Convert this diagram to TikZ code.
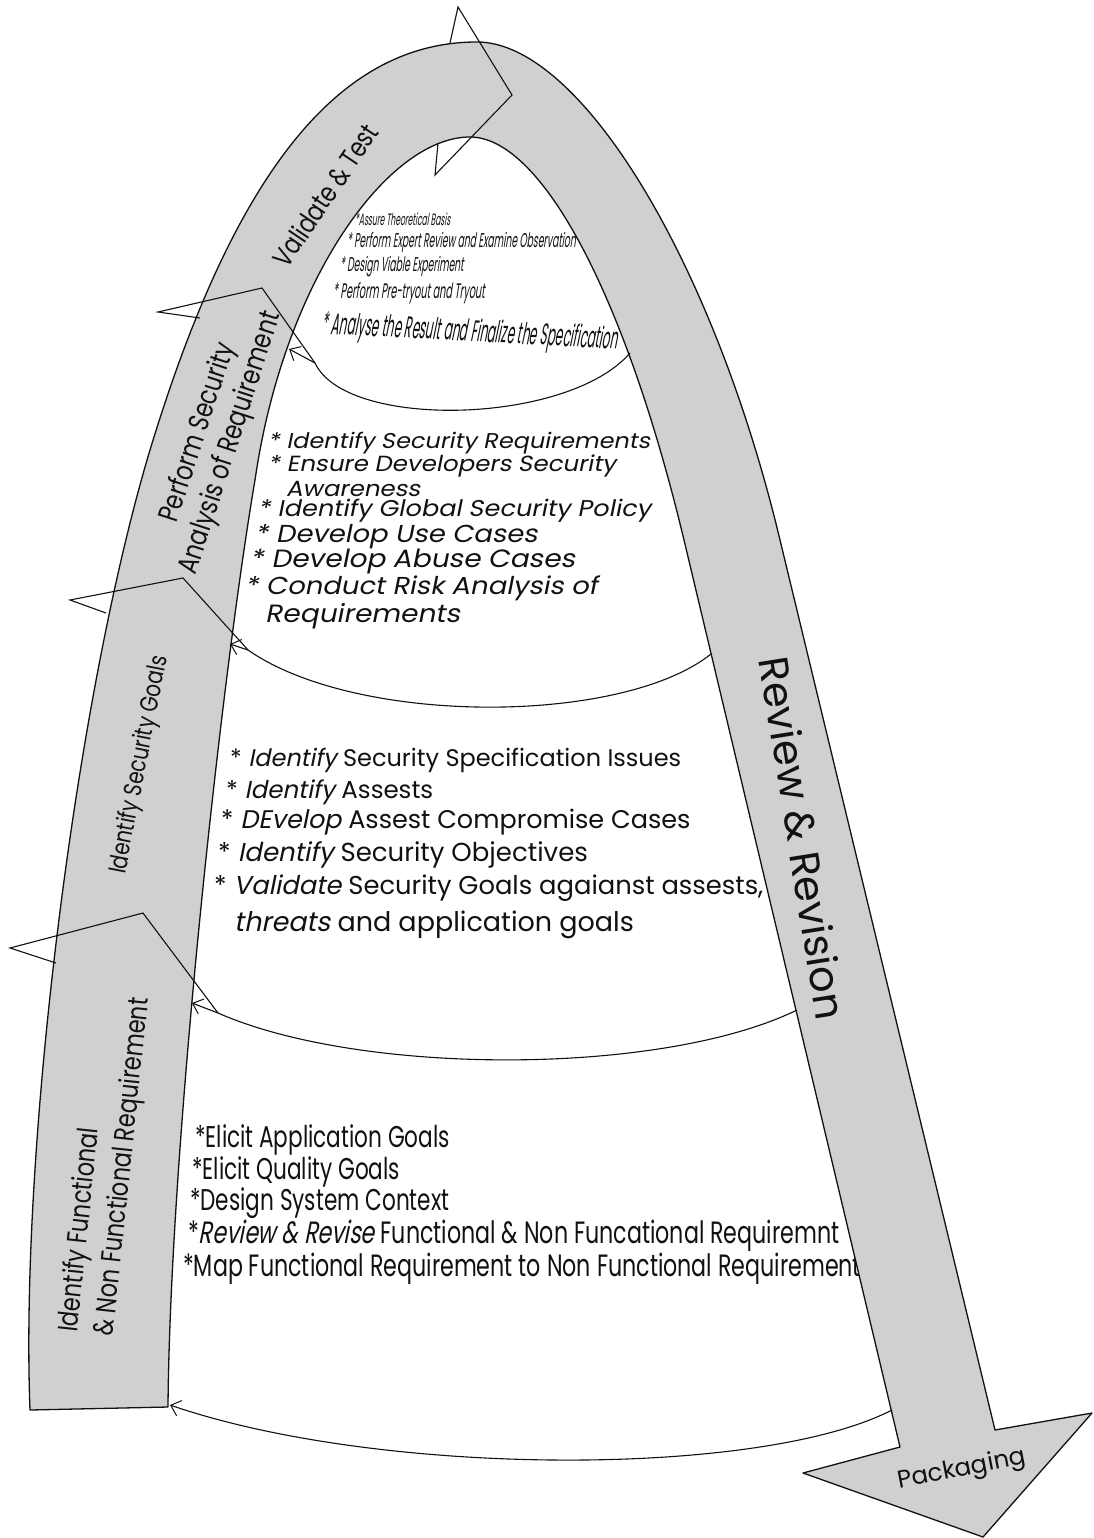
\documentclass[tikz,border=0pt]{standalone}
\usepackage{fontspec}
\usetikzlibrary{arrows.meta}
\newfontfamily\gothic{Poppins}
\newfontfamily\gothicsl[FakeSlant=0.2]{Poppins}
\newfontfamily\gothicwidesl[FakeStretch=1.12,FakeSlant=0.2]{Poppins}
\newfontfamily\gothicband[FakeStretch=0.8]{Poppins}
\newfontfamily\gothicnarrow[FakeStretch=0.72]{Poppins}
\newfontfamily\gothicnarrowsl[FakeStretch=0.72,FakeSlant=0.2]{Poppins}
\newfontfamily\gothicthin[FakeStretch=0.46,FakeSlant=0.15]{Poppins}
\newfontfamily\gothicthinner[FakeStretch=0.4,FakeSlant=0.15]{Poppins}
\newcommand\pts[2]{\fontsize{#1}{#2}\selectfont}

\begin{document}
\begin{tikzpicture}[x=1pt,y=-1pt,
  every node/.style={inner sep=0pt,text=ink},
  item/.style={anchor=west},
  band/.style={fill=stipple,draw=ink,line width=1.3pt,line join=round},
  stageline/.style={draw=ink,line width=1.1pt},
  backarrow/.style={stageline,-{Straight Barb[length=9pt,width=16pt,line width=1pt]}}]
  \definecolor{ink}{HTML}{111111}
  \definecolor{stipple}{HTML}{D0D0D0}
  \fill[white] (0,0) rectangle (1093,1538);
  \useasboundingbox (0,0) rectangle (1093,1538);
  % Stage texts go first so the band covers their clipped ends.
  \node[item,font=\gothicthin\pts{16.5}{18}] (v1) at (355,219) {*Assure Theoretical Basis};
  \node[item,font=\gothicthin\pts{20}{21}] (v2) at (347,242) {* Perform Expert Review and Examine Observation};
  \node[item,font=\gothicthin\pts{20}{21}] (v3) at (340,267) {* Design Viable Experiment};
  \node[item,font=\gothicthin\pts{21}{22}] (v4) at (333,293) {* Perform Pre-tryout and Tryout};
  \node[item,font=\gothicthinner\pts{30}{31},rotate=-3] (v5) at (322,326) {* Analyse the Result and Finalize the Specification};
  % Security analysis of requirement.
  \node[item,font=\gothicwidesl\pts{21.4}{24}] (p1) at (268,443) {* Identify Security Requirements};
  \node[item,font=\gothicwidesl\pts{21.9}{24}] (p2) at (268,466) {* Ensure Developers Security};
  \node[item,font=\gothicwidesl\pts{21.9}{24}] (p3) at (286,489) {Awareness};
  \node[item,font=\gothicwidesl\pts{22.8}{24}] (p4) at (258,511) {* Identify Global Security Policy};
  \node[item,font=\gothicwidesl\pts{24.5}{26}] (p5) at (255,537) {* Develop Use Cases};
  \node[item,font=\gothicwidesl\pts{25}{26}] (p6) at (250,561) {* Develop Abuse Cases};
  \node[item,font=\gothicwidesl\pts{24.5}{26}] (p7) at (245,588) {* Conduct Risk Analysis of};
  \node[item,font=\gothicwidesl\pts{25}{26}] (p8) at (265,616) {Requirements};
  % Security goals.
  \node[item,font=\gothic\pts{24}{26}] (g1) at (230,760) {* {\gothicsl Identify} Security Specification Issues};
  \node[item,font=\gothic\pts{24.5}{26}] (g2) at (226,792) {* {\gothicsl Identify} Assests};
  \node[item,font=\gothic\pts{25.5}{26}] (g3) at (221,822) {* {\gothicsl DEvelop} Assest Compromise Cases};
  \node[item,font=\gothic\pts{26}{26}] (g4) at (218,855) {* {\gothicsl Identify} Security Objectives};
  \node[item,font=\gothic\pts{25.8}{26}] (g5) at (214,888) {* {\gothicsl Validate} Security Goals agaianst assests,};
  \node[item,font=\gothic\pts{27}{28}] (g6) at (234,925) {{\gothicsl threats} and application goals};
  % Functional and non functional requirement.
  \node[item,font=\gothicnarrow\pts{30}{32}] (f1) at (195,1140) {*Elicit Application Goals};
  \node[item,font=\gothicnarrow\pts{30}{32}] (f2) at (192,1172) {*Elicit Quality Goals};
  \node[item,font=\gothicnarrow\pts{30}{32}] (f3) at (190,1203) {*Design System Context};
  \node[item,font=\gothicnarrow\pts{30.8}{32}] (f4) at (188,1236) {*{\gothicnarrowsl Review \& Revise} Functional \& Non Funcational Requiremnt};
  \node[item,font=\gothicnarrow\pts{30.8}{32}] (f5) at (183,1269) {*Map Functional Requirement to Non Functional Requirement};
  % The arch, ending in the packaging arrow.
  \draw[band] (30,1410) .. controls (20,1150) and (75,700) .. (150,450)
    .. controls (235,170) and (340,42) .. (477,42)
    .. controls (580,42) and (713,260) .. (780,540)
    -- (995,1430) -- (1092,1413) -- (983,1537) -- (803,1473) -- (900,1447)
    -- (684,540) .. controls (624,290) and (540,137) .. (470,137)
    .. controls (388,137) and (284,280) .. (255,480)
    .. controls (221,680) and (170,1150) .. (168,1407) -- cycle;
  % Seams between the stages: right end, join, inner edge of the band.
  \coordinate (r1) at (630,353); \coordinate (j1) at (315,363); \coordinate (e1) at (289,349);
  \coordinate (r2) at (711,654); \coordinate (j2) at (248,650); \coordinate (e2) at (230,644);
  \coordinate (r3) at (797,1010); \coordinate (j3) at (218,1013); \coordinate (e3) at (192,1003);
  \coordinate (r4) at (892,1410); \coordinate (e4) at (170,1405);
  % Chevrons: tip, barb and the lower edge stopping at the band.
  \coordinate (t0) at (458,7); \coordinate (u0) at (512,95); \coordinate (j0) at (435,175); \coordinate (l0) at (450,43); \coordinate (e0) at (438,143);
  \coordinate (t1) at (158,312); \coordinate (u1) at (262,288); \coordinate (l1) at (200,318);
  \coordinate (t2) at (70,600); \coordinate (u2) at (183,578); \coordinate (l2) at (106,613);
  \coordinate (t3) at (10,948); \coordinate (u3) at (143,913); \coordinate (l3) at (56,963);
  \draw[stageline] (l0) -- (t0) -- (u0) -- (j0) -- (e0);
  \draw[stageline] (l1) -- (t1) -- (u1) -- (j1);
  \draw[stageline] (l2) -- (t2) -- (u2) -- (j2);
  \draw[stageline] (l3) -- (t3) -- (u3) -- (j3);
  \draw[backarrow] (r1) .. controls (568,425) and (346,430) .. (j1) -- (e1);
  \draw[backarrow] (r2) .. controls (622,725) and (357,726) .. (j2) -- (e2);
  \draw[backarrow] (r3) .. controls (662,1076) and (361,1076) .. (j3) -- (e3);
  \draw[backarrow] (r4) .. controls (760,1478) and (379,1477) .. (e4);
  % Labels on the band.
  \node[rotate=56,font=\gothicband\pts{27.5}{30}] (validate) at (325,195) {Validate \& Test};
  \node[rotate=72,align=center,font=\gothicband\pts{28.5}{34}] (analysis) at (215,438) {Perform Security\\Analysis of Requirement};
  \node[rotate=79,font=\gothicband\pts{25}{28}] (goals) at (140,765) {Identify Security Goals};
  \node[rotate=84,anchor=west,align=left,font=\gothicband\pts{28}{36}] (functional) at (88,1334) {Identify Functional\\\& Non Functional Requirement};
  \node[rotate=-81,font=\gothic\pts{41.5}{44}] (review) at (803,838) {Review \& Revision};
  \node[rotate=11,font=\gothic\pts{24.5}{26}] (packaging) at (962,1470) {Packaging};
\end{tikzpicture}
\end{document}
